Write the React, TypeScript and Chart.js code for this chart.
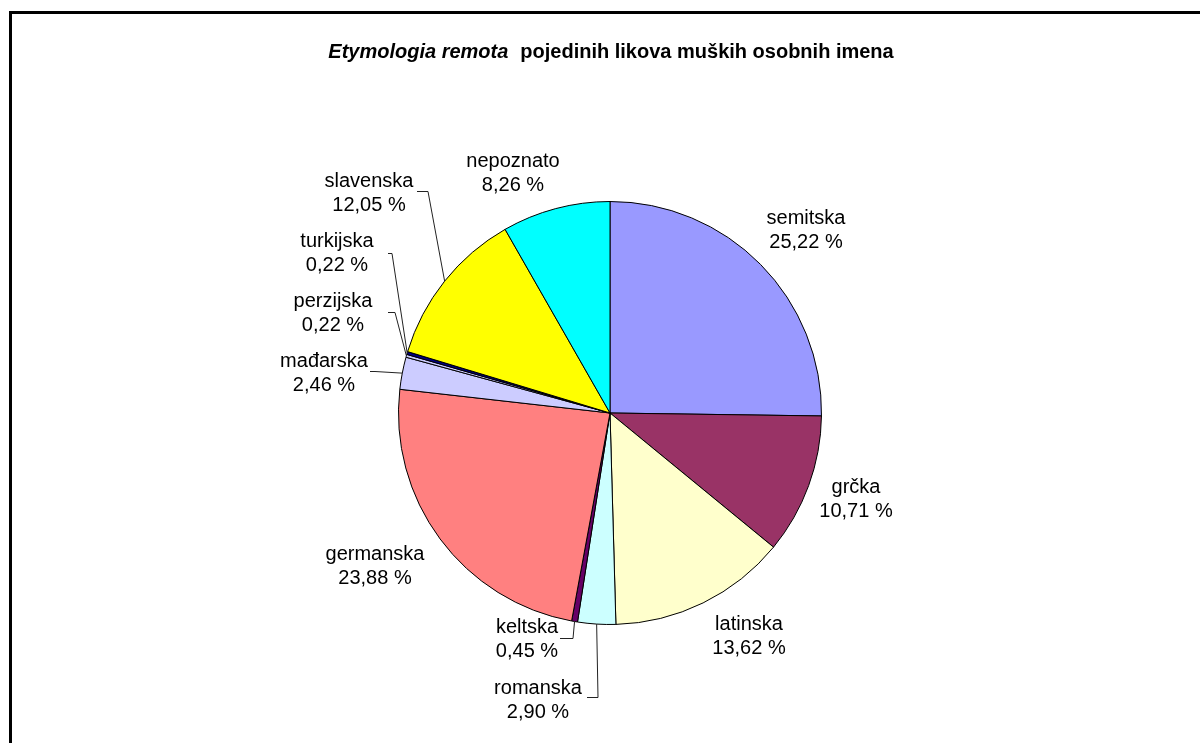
import React, { useEffect, useRef } from 'react';
import { Chart, registerables } from 'chart.js';

Chart.register(...registerables);

const categories = ['semitska', 'grčka', 'latinska', 'romanska', 'keltska', 'germanska', 'mađarska', 'perzijska', 'turkijska', 'slavenska', 'nepoznato'];
const percentages = [25.22, 10.71, 13.62, 2.9, 0.45, 23.88, 2.46, 0.22, 0.22, 12.05, 8.26];
const sliceColors = ['#9999FF', '#993366', '#FFFFCC', '#CCFFFF', '#660066', '#FF8080', '#CCCCFF', '#CCCCFF', '#000080', '#FFFF00', '#00FFFF'];

const titleItalicPart = 'Etymologia remota';
const titleRegularPart = 'pojedinih likova muških osobnih imena';

// label block centre offsets from pie centre (px), and optional leader line start/elbow (relative to label centre)
const labelOffsets: [number, number][] = [
  [196, -183], [246, 86], [139, 223], [-72, 287], [-83, 226], [-235, 153],
  [-286, -40], [-277, -100], [-273, -160], [-241, -220], [-97, -240],
];
const leaderSpecs: (null | [number, number, number, number])[] = [
  null, null, null, [49, -3, 60, -3], [33, -1, 46, -1], null,
  [46, -2, 51, -2], [55, -1, 62, -1], [51, 0, 55, 0], [48, -2, 59, -2], null,
];

const FONT = '"Liberation Sans", Arial, sans-serif';

const fmt = (v: number) => v.toFixed(2).replace('.', ',') + ' %';

const decorPlugin = {
  id: 'decor',
  afterDraw(chart: any) {
    const ctx = chart.ctx as CanvasRenderingContext2D;
    ctx.save();
    // frame
    ctx.strokeStyle = '#000';
    ctx.lineWidth = 3;
    ctx.strokeRect(10.5, 12.5, 1220, 760);

    // title
    ctx.fillStyle = '#000';
    ctx.textBaseline = 'alphabetic';
    ctx.textAlign = 'left';
    ctx.font = `italic bold 20px ${FONT}`;
    const w1 = ctx.measureText(titleItalicPart).width;
    ctx.font = `bold 20px ${FONT}`;
    const w2 = ctx.measureText(titleRegularPart).width;
    const gap = 12;
    const total = w1 + gap + w2;
    const tx = 611 - total / 2;
    ctx.font = `italic bold 20px ${FONT}`;
    ctx.fillText(titleItalicPart, tx, 58);
    ctx.font = `bold 20px ${FONT}`;
    ctx.fillText(titleRegularPart, tx + w1 + gap, 58);

    // labels
    const meta = chart.getDatasetMeta(0);
    ctx.font = `20px ${FONT}`;
    ctx.textAlign = 'center';
    ctx.textBaseline = 'middle';
    meta.data.forEach((arc: any, i: number) => {
      const cx = arc.x;
      const cy = arc.y;
      const lx = cx + labelOffsets[i][0];
      const ly = cy + labelOffsets[i][1];
      ctx.fillStyle = '#000';
      ctx.fillText(categories[i], lx, ly - 12);
      ctx.fillText(fmt(percentages[i]), lx, ly + 12);
      const spec = leaderSpecs[i];
      if (spec) {
        const mid = (arc.startAngle + arc.endAngle) / 2;
        const px = cx + Math.cos(mid) * arc.outerRadius;
        const py = cy + Math.sin(mid) * arc.outerRadius;
        ctx.strokeStyle = '#222';
        ctx.lineWidth = 1;
        ctx.beginPath();
        ctx.moveTo(lx + spec[0], ly + spec[1] + 0.5);
        ctx.lineTo(lx + spec[2], ly + spec[3] + 0.5);
        ctx.lineTo(px, py);
        ctx.stroke();
      }
    });
    ctx.restore();
  },
};

export default function App() {
  const canvasRef = useRef<HTMLCanvasElement | null>(null);
  useEffect(() => {
    if (!canvasRef.current) return;
    const chart = new Chart(canvasRef.current, {
      type: 'pie',
      data: {
        labels: categories,
        datasets: [
          {
            data: percentages,
            backgroundColor: sliceColors,
            borderColor: '#000',
            borderWidth: 1,
          },
        ],
      },
      options: {
        animation: false,
        responsive: true,
        maintainAspectRatio: false,
        layout: { padding: { left: 398, right: 378, top: 201, bottom: 118 } },
        plugins: {
          legend: { display: false },
          tooltip: { enabled: false },
          title: { display: false },
        },
      },
      plugins: [decorPlugin],
    });
    return () => chart.destroy();
  }, []);
  return (
    <div style={{ position: 'fixed', left: 0, top: 0, width: 1200, height: 743, background: '#fff' }}>
      <canvas ref={canvasRef} />
    </div>
  );
}
